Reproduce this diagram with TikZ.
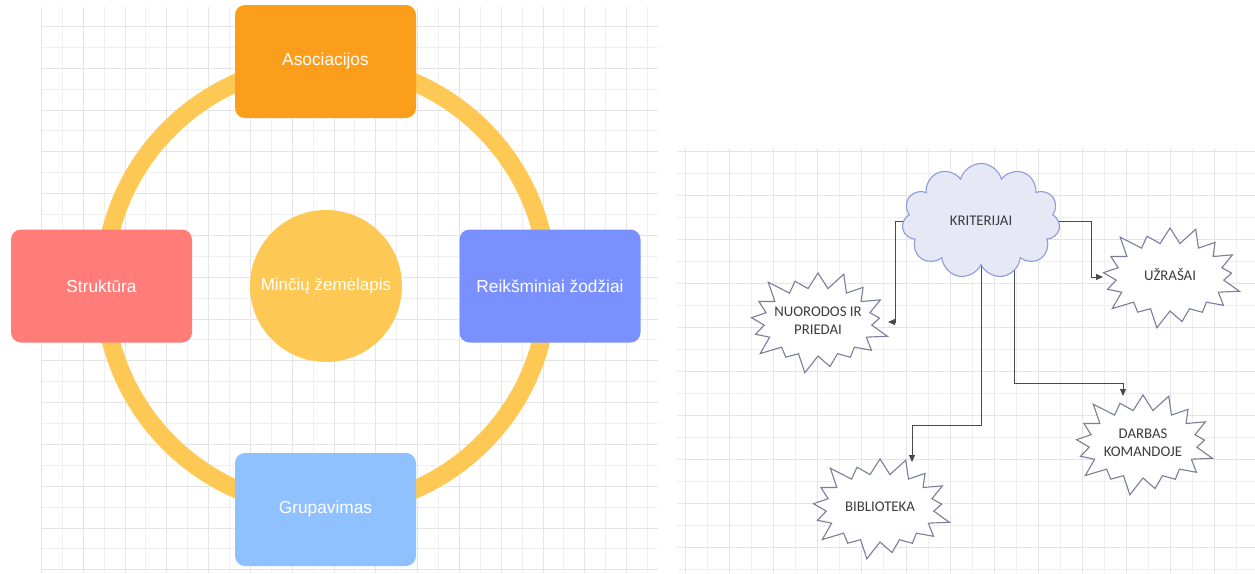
\documentclass[tikz,border=0pt]{standalone}
\usepackage{fontspec}
\usetikzlibrary{shapes.symbols,arrows.meta}
\newfontfamily\lsans{Liberation Sans}
\newfontfamily\calib{Carlito}
\definecolor{gridMinor}{HTML}{EFEFEF}
\definecolor{gridMajor}{HTML}{E4E4E4}
\definecolor{ringC}{HTML}{FDC954}
\definecolor{orangeC}{HTML}{FA9E1C}
\definecolor{redC}{HTML}{FF7C78}
\definecolor{blueC}{HTML}{7A90FF}
\definecolor{lblueC}{HTML}{8FC0FF}
\definecolor{cloudFill}{HTML}{E6E8F6}
\definecolor{cloudDraw}{HTML}{8F9BDB}
\definecolor{burstDraw}{HTML}{7A7E98}
\definecolor{txtC}{HTML}{3C3C3C}
\definecolor{connC}{HTML}{4A4A4A}
\pgfdeclarelayer{gridlayer}
\pgfdeclarelayer{linelayer}
\pgfsetlayers{gridlayer,linelayer,main}
\newcommand\zlabel[1]{\makebox[0pt]{\begin{tabular}{@{}c@{}}#1\end{tabular}}}
\tikzset{
  mbox/.style={rectangle, rounded corners=10pt, minimum width=181pt, minimum height=113pt, inner sep=0pt, text=white, font=\lsans\fontsize{17.3}{20}\selectfont},
  core/.style={circle, fill=ringC, minimum size=152pt, inner sep=0pt, text=white, font=\lsans\fontsize{17}{20}\selectfont},
  burst/.style={starburst, starburst points=17, starburst point height=21pt, draw=burstDraw, line width=1.1pt, fill=white, minimum width=150pt, minimum height=110pt, inner sep=0pt, text=txtC, font=\calib\fontsize{14.8}{18}\selectfont},
  kcloud/.style={cloud, cloud puffs=11, aspect=1.4, draw=cloudDraw, fill=cloudFill, line width=1.1pt, minimum width=158pt, minimum height=115pt, inner sep=0pt, text=txtC, font=\calib\fontsize{14.8}{18}\selectfont},
  conn/.style={draw=connC, line width=1pt, -{Triangle[length=7pt,width=6pt]}},
  minorline/.style={draw=gridMinor, line width=1.3pt},
  majorline/.style={draw=gridMajor, line width=1.3pt}
}
\begin{document}
\begin{tikzpicture}[x=1pt,y=-1pt]
\useasboundingbox (0,0) rectangle (1255,573);
\begin{pgfonlayer}{gridlayer}
\fill[white] (0,0) rectangle (1255,573);
% left grid
\foreach \k in {1,3,...,29} {\pgfmathsetmacro\gp{round(41+20.9*\k)+0.5}\draw[minorline] (\gp,7) -- (\gp,573);}
\foreach \k in {1,3,...,25} {\pgfmathsetmacro\gp{round(26+20.9*\k)+0.5}\draw[minorline] (41,\gp) -- (658,\gp);}
\foreach \k in {0,2,...,28} {\pgfmathsetmacro\gp{round(41+20.9*\k)+0.5}\draw[majorline] (\gp,7) -- (\gp,573);}
\foreach \k in {0,2,...,26} {\pgfmathsetmacro\gp{round(26+20.9*\k)+0.5}\draw[majorline] (41,\gp) -- (658,\gp);}
% right grid
\foreach \k in {1,3,...,25} {\pgfmathsetmacro\gp{round(685+22.05*\k)+0.5}\draw[minorline] (\gp,148) -- (\gp,573);}
\foreach \k in {1,3,...,19} {\pgfmathsetmacro\gp{round(150.7+22*\k)+0.5}\draw[minorline] (677,\gp) -- (1255,\gp);}
\foreach \k in {0,2,...,24} {\pgfmathsetmacro\gp{round(685+22.05*\k)+0.5}\draw[majorline] (\gp,148) -- (\gp,573);}
\foreach \k in {0,2,...,18} {\pgfmathsetmacro\gp{round(150.7+22*\k)+0.5}\draw[majorline] (677,\gp) -- (1255,\gp);}
\end{pgfonlayer}

% left mind map
\draw[ringC, line width=18pt] (326,286) circle[radius=222pt];
\node[core] (core) at (326,286) {Minčių žemėlapis};
\node[mbox, fill=orangeC] (asoc) at (325.5,61.5) {Asociacijos};
\node[mbox, fill=redC] (struk) at (101.5,286) {Struktūra};
\node[mbox, fill=blueC] (reik) at (550,286) {Reikšminiai žodžiai};
\node[mbox, fill=lblueC] (grup) at (325.5,509.5) {Grupavimas};

% right diagram
\node[kcloud] (krit) at (981,221) {KRITERIJAI};
\node[burst] (nuor) at (818,322) {\zlabel{NUORODOS IR\\PRIEDAI}};
\node[burst] (uzr) at (1170,277) {\zlabel{UŽRAŠAI}};
\node[burst] (bib) at (880,508) {\zlabel{BIBLIOTEKA}};
\node[burst] (darb) at (1143,444) {\zlabel{DARBAS\\KOMANDOJE}};

\coordinate (n1) at (895,322);
\coordinate (nuorIn) at (888,322);
\coordinate (u1) at (1091,277);
\coordinate (uzrIn) at (1103,277);
\coordinate (b1) at (912,425);
\coordinate (bibIn) at (912,462);
\coordinate (d0) at (1014.5,240);
\coordinate (d1) at (1123,383);
\coordinate (darbIn) at (1123,396);

\begin{pgfonlayer}{linelayer}
\draw[conn] (krit.center) -| (n1) -- (nuorIn);
\draw[conn] (krit.center) -| (u1) -- (uzrIn);
\draw[conn] (krit.center) |- (b1) -- (bibIn);
\draw[conn] (d0) |- (d1) -- (darbIn);
\end{pgfonlayer}
\end{tikzpicture}
\end{document}
